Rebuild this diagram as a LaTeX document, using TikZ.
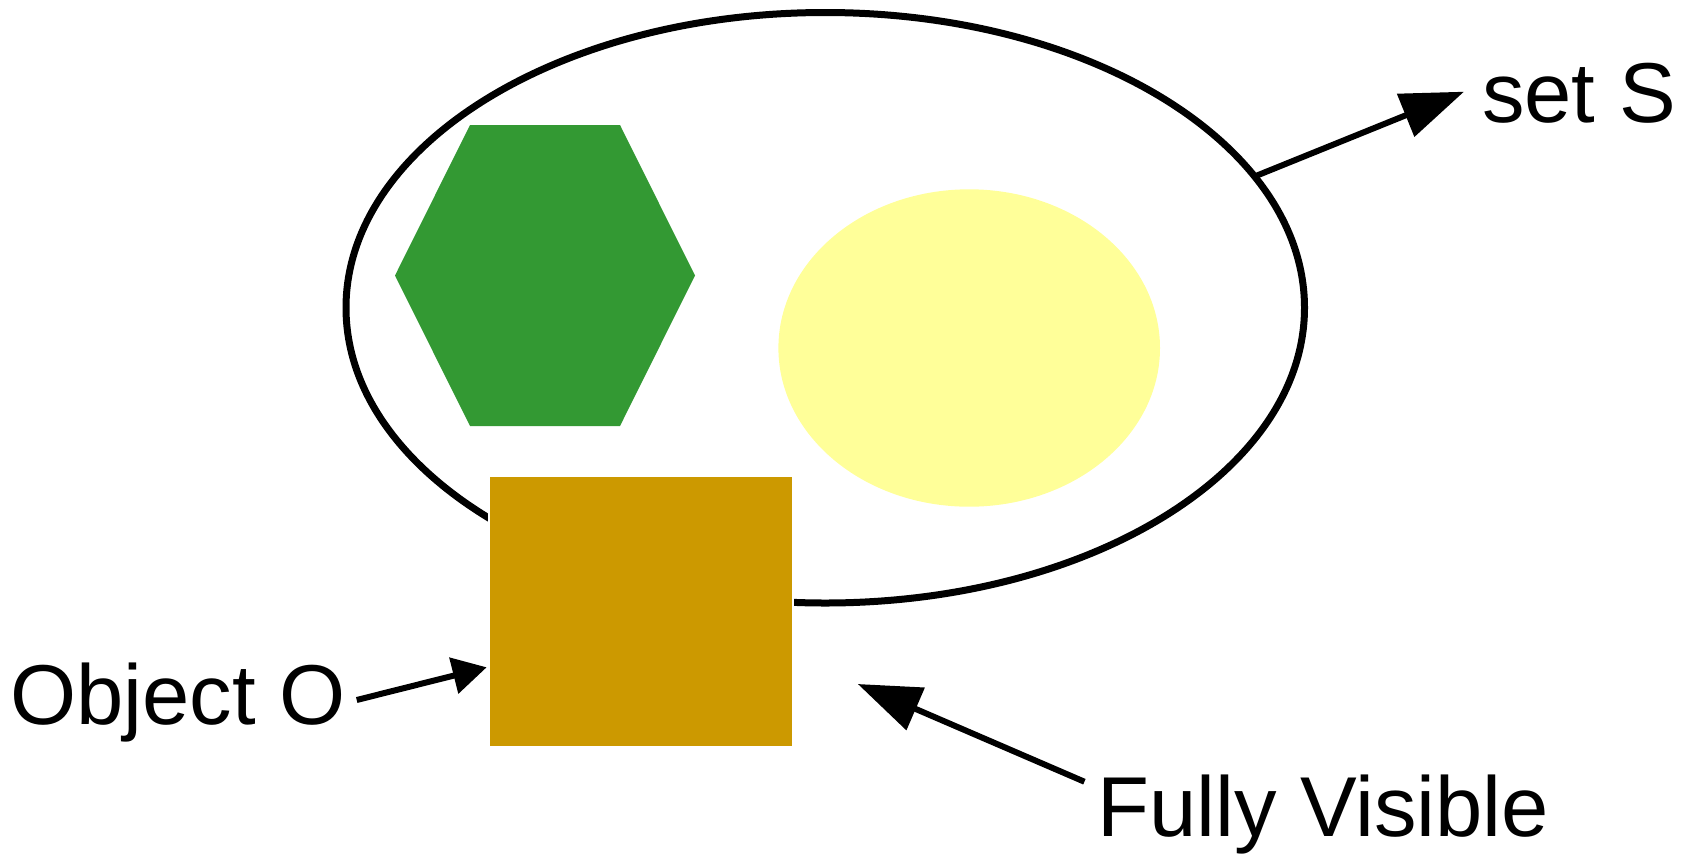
\documentclass[tikz,border=0pt]{standalone}
\usepackage{fontspec}
\setmainfont{Liberation Sans}
\usetikzlibrary{shapes.geometric,arrows.meta}
\definecolor{hexgreen}{HTML}{339933}
\definecolor{lightyellow}{HTML}{FFFF99}
\definecolor{boxgold}{HTML}{CC9900}
\begin{document}
\begin{tikzpicture}[x=1pt,y=-1pt,
  lbl/.style={font=\fontsize{85}{100}\selectfont, inner sep=0pt, anchor=base west},
  conn/.style={line width=6pt},
  bigtip/.style={-{Triangle[length=63pt,width=45pt]}},
  smalltip/.style={-{Triangle[length=34pt,width=36pt]}},
  setellipse/.style={ellipse, draw=black, line width=7pt, inner sep=0pt, outer sep=0pt},
  blob/.style={ellipse, fill=lightyellow, inner sep=0pt, outer sep=0pt},
  objbox/.style={rectangle, fill=boxgold, draw=white, line width=2.3pt, inner sep=0pt, outer sep=0pt}
]
\useasboundingbox (0,0) rectangle (1692,855);
% set S
\node[setellipse, minimum width=958.5pt, minimum height=590.5pt] (S) at (825.25,307.75) {};
% hexagon
\fill[hexgreen] (470,125) -- (620,125) -- (695,275.5) -- (620,426) -- (470,426) -- (395,275.5) -- cycle;
% yellow ellipse
\node[blob, minimum width=381.6pt, minimum height=317.4pt] (Y) at (969.2,348) {};
% object O
\node[objbox, minimum width=304pt, minimum height=270.7pt] (O) at (640.85,611.5) {};
% labels
\node[lbl] (setS) at (1482,122.5) {set S};
\node[lbl] (objO) at (10,724) {Object O};
\node[lbl] (fv) at (1097,836.7) {Fully Visible};
% connector ends
\coordinate (tipS) at (1464,91.7);
\coordinate (startO) at (356.7,700);
\coordinate (tipO) at (486.7,667.3);
\coordinate (startF) at (1084.4,781.7);
\coordinate (tipF) at (857.8,684);
% connectors
\draw[conn, bigtip] (S.17.5) -- (tipS);
\draw[conn, smalltip] (startO) -- (tipO);
\draw[conn, bigtip] (startF) -- (tipF);
\end{tikzpicture}
\end{document}
